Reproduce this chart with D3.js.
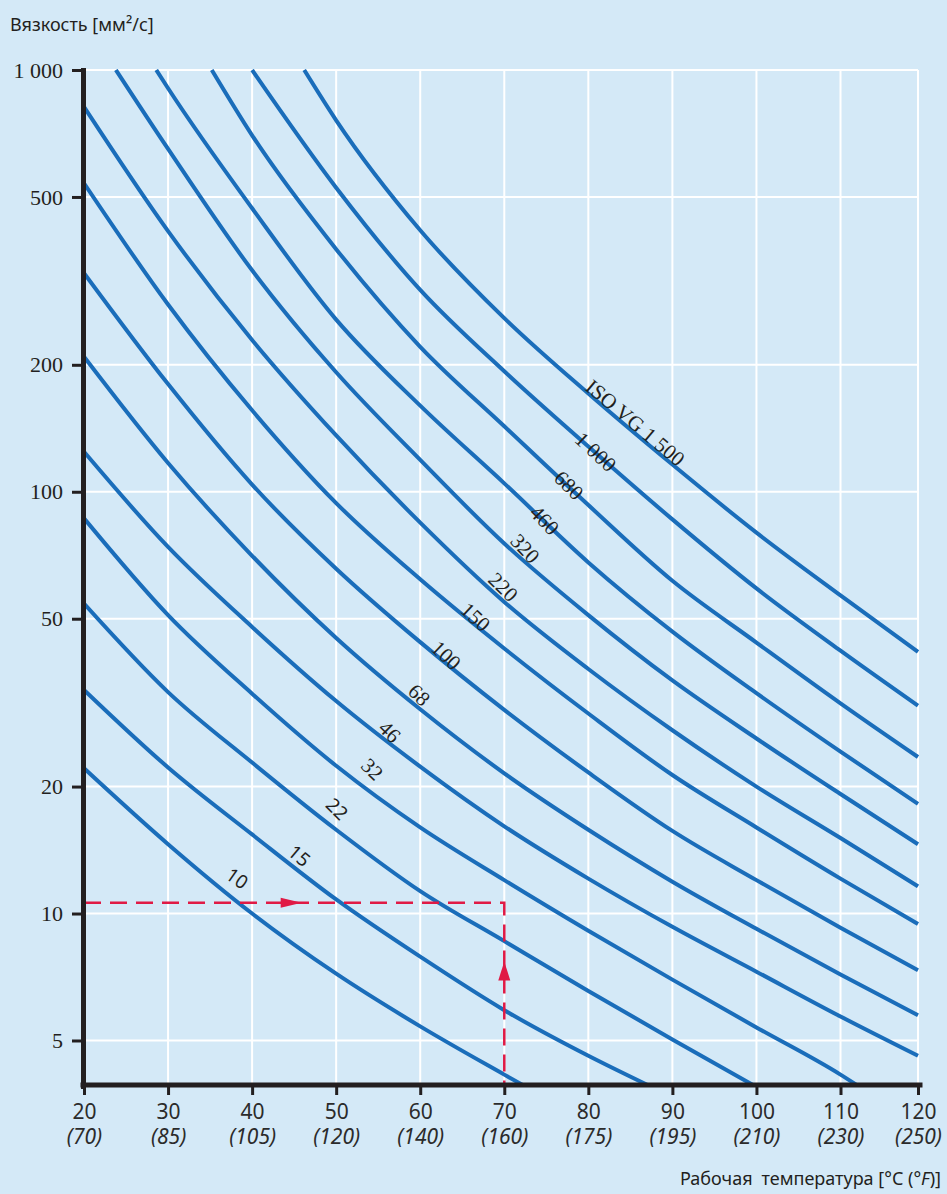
<!DOCTYPE html>
<html lang="ru">
<head>
<meta charset="utf-8">
<script src="https://d3js.org/d3.v7.min.js"></script>
<style>
  body { margin: 0; background: #d4e9f7; }
  svg { display: block; }
  .axis path { stroke: #231f20; stroke-width: 5px; stroke-linecap: square; }
  .axis line { stroke: #231f20; stroke-width: 3px; }
  .axis--y text { font-family: "Liberation Serif", serif; font-size: 22px; fill: #231f20; }
  .tick-c, .tick-f { font-family: "Noto Sans", sans-serif; font-size: 21px; fill: #2b2b2b; }
  .tick-f { font-style: italic; }
  .grid line { stroke: #ffffff; stroke-width: 2px; }
  .curve { fill: none; stroke: #1a6dba; stroke-width: 4px; }
  .vg-label { font-family: "Liberation Serif", serif; font-size: 21px; fill: #231f20; }
  .vg-label.sans { font-family: "Noto Sans", sans-serif; font-size: 19px; }
  .title { font-family: "Noto Sans", sans-serif; font-size: 18px; fill: #231f20; }
  .guide { fill: none; stroke: #e01a45; stroke-width: 2.5px; stroke-dasharray: 17 9; }
  .arrow { fill: #e01a45; }
</style>
</head>
<body>
<div id="chart"></div>
<script>
var width = 947, height = 1194;

// axis ticks
var yTicks = [5, 10, 20, 50, 100, 200, 500, 1000];
var tempC = [20, 30, 40, 50, 60, 70, 80, 90, 100, 110, 120];
var tempF = [70, 85, 105, 120, 140, 160, 175, 195, 210, 230, 250];

// ISO VG grades and their curves: [temperature °C, viscosity mm²/s]
var grades = ["10", "15", "22", "32", "46", "68", "100", "150", "220", "320", "460", "680", "1 000", "ISO VG 1 500"];
var vg10 = [[20, 22.1], [30, 14.6], [40, 10], [50, 7.2], [60, 5.4], [70, 4.15], [72.4, 3.9]];
var vg15 = [[20, 33.9], [30, 22.2], [40, 15.4], [50, 10.8], [60, 7.9], [70, 5.9], [80, 4.6], [87.3, 3.9]];
var vg22 = [[20, 54.3], [30, 33.5], [40, 22.8], [50, 15.8], [60, 11.3], [70, 8.6], [80, 6.55], [90, 5.03], [99.8, 3.9]];
var vg32 = [[20, 86.5], [30, 51], [40, 33.2], [50, 22.4], [60, 16], [70, 12], [80, 9.1], [90, 6.97], [100, 5.37], [110, 4.15], [112.3, 3.9]];
var vg46 = [[20, 124.4], [30, 74], [40, 47.8], [50, 31.9], [60, 22.3], [70, 16.1], [80, 12.1], [90, 9.3], [100, 7.28], [110, 5.7], [120, 4.6]];
var vg68 = [[20, 209], [30, 117], [40, 70.5], [50, 45], [60, 30.5], [70, 21.5], [80, 15.8], [90, 11.9], [100, 9.2], [110, 7.17], [120, 5.74]];
var vg100 = [[20, 330], [30, 180], [40, 104], [50, 65.7], [60, 44], [70, 30.4], [80, 21.6], [90, 15.7], [100, 12], [110, 9.25], [120, 7.34]];
var vg150 = [[20, 539], [30, 278], [40, 156], [50, 94], [60, 62], [70, 42.5], [80, 29.8], [90, 21.3], [100, 16], [110, 12.1], [120, 9.44]];
var vg220 = [[20, 818], [30, 415], [40, 229], [50, 136], [60, 84.5], [70, 54.8], [80, 38], [90, 27.2], [100, 20], [110, 15.1], [120, 11.6]];
var vg320 = [[23.8, 1000], [30, 650], [40, 335], [50, 192], [60, 119], [70, 75.4], [80, 51], [90, 35.7], [100, 26], [110, 19.2], [120, 14.6]];
var vg460 = [[28.6, 1000], [30, 905], [40, 470], [50, 256], [60, 160], [70, 104.7], [80, 68], [90, 46.6], [100, 33.3], [110, 24.2], [120, 18.2]];
var vg680 = [[35.2, 1000], [40, 700], [50, 376], [60, 220.7], [70, 143], [80, 93], [90, 61.5], [100, 43.9], [110, 31.5], [120, 23.5]];
var vg1000 = [[40, 1000], [50, 526], [60, 301], [70, 193], [80, 128], [90, 86], [100, 59], [110, 42], [120, 31.1]];
var vg1500 = [[46.2, 1000], [50, 760], [60, 417], [70, 258], [80, 171], [90, 116], [100, 80], [110, 56.8], [120, 41.7]];
var curves = [vg10, vg15, vg22, vg32, vg46, vg68, vg100, vg150, vg220, vg320, vg460, vg680, vg1000, vg1500];

// where each grade label sits (°C, mm²/s) and its tilt
var labelT = [38.2, 45.6, 50.1, 54.3, 56.4, 59.9, 63.1, 66.6, 69.9, 72.5, 74.8, 77.7, 80.9, 85.6];
var labelV = [12.1, 13.7, 17.7, 22.0, 27.0, 33.0, 41.0, 50.5, 59.5, 73.4, 85.7, 103.7, 124.4, 145.9];
var labelAngle = [35, 40, 45, 44, 45, 45, 44, 43, 45, 47, 46, 45, 43, 40];

// worked example: 70 °C needs ~10.6 mm²/s
var exampleT = 70, exampleV = 10.6;
var arrowRightT = 45.9, arrowUpV = 7.7;

var x = d3.scaleLinear().domain([20, 110, 120]).range([84, 840.5, 918]);
var y = d3.scaleLog().domain([3.9, 1000]).range([1086, 70]);

var svg = d3.select("#chart").append("svg")
    .attr("width", width)
    .attr("height", height);

svg.append("rect").attr("width", width).attr("height", height).attr("fill", "#d4e9f7");

svg.append("defs").append("clipPath").attr("id", "plot-clip")
    .append("rect")
    .attr("x", x(20)).attr("y", y(1000) - 1)
    .attr("width", x(120) - x(20) + 2).attr("height", y(3.9) - y(1000) + 1);

// grid
var grid = svg.append("g").attr("class", "grid");
grid.selectAll("line.v")
    .data(tempC.slice(1))
    .enter().append("line")
    .attr("x1", function(d) { return x(d); })
    .attr("x2", function(d) { return x(d); })
    .attr("y1", y(1000))
    .attr("y2", y(3.9));
grid.selectAll("line.h")
    .data(yTicks)
    .enter().append("line")
    .attr("x1", x(20))
    .attr("x2", x(120))
    .attr("y1", function(d) { return y(d); })
    .attr("y2", function(d) { return y(d); });

// curves
var line = d3.line()
    .x(function(d) { return x(d[0]); })
    .y(function(d) { return y(d[1]); })
    .curve(d3.curveMonotoneX);

svg.append("g")
    .attr("clip-path", "url(#plot-clip)")
    .selectAll("path")
    .data(curves)
    .enter().append("path")
    .attr("class", "curve")
    .attr("d", line);

// grade labels
svg.append("g")
    .selectAll("text")
    .data(grades)
    .enter().append("text")
    .attr("class", function(d, i) { return i < 3 ? "vg-label sans" : "vg-label"; })
    .attr("text-anchor", "middle")
    .attr("dy", "0.35em")
    .attr("transform", function(d, i) {
        return "translate(" + x(labelT[i]) + "," + y(labelV[i]) + ") rotate(" + labelAngle[i] + ")";
    })
    .text(function(d) { return d; });

// worked example (dashed guide + arrows)
svg.append("path")
    .attr("class", "guide")
    .attr("d", "M" + x(20) + "," + y(exampleV) + "H" + x(exampleT) + "V" + y(3.9));

svg.append("path")
    .attr("class", "arrow")
    .attr("transform", "translate(" + x(arrowRightT) + "," + y(exampleV) + ")")
    .attr("d", "M0,0L-21,-5L-21,5Z");

svg.append("path")
    .attr("class", "arrow")
    .attr("transform", "translate(" + x(exampleT) + "," + y(arrowUpV) + ")")
    .attr("d", "M0,0L-6,19L6,19Z");

// axes
svg.append("g")
    .attr("class", "axis axis--y")
    .attr("transform", "translate(" + (x(20) - 1) + ",0)")
    .call(d3.axisLeft(y)
        .tickValues(yTicks)
        .tickSize(11)
        .tickSizeOuter(0)
        .tickPadding(9)
        .tickFormat(function(d) { return d === 1000 ? "1 000" : d; }));

var xAxis = svg.append("g")
    .attr("class", "axis axis--x")
    .attr("transform", "translate(0," + (y(3.9) - 1) + ")")
    .call(d3.axisBottom(x)
        .tickValues(tempC)
        .tickSize(10)
        .tickSizeOuter(0)
        .tickFormat(""));

xAxis.select(".domain").attr("d", "M" + (x(20) - 1) + ",0H" + (x(120) + 2));

xAxis.selectAll(".tick").each(function(d, i) {
    var tick = d3.select(this);
    tick.select("text").remove();
    tick.append("text").attr("class", "tick-c")
        .attr("text-anchor", "middle").attr("y", 34).text(d);
    tick.append("text").attr("class", "tick-f")
        .attr("text-anchor", "middle").attr("y", 59).text("(" + tempF[i] + ")");
});

// titles
svg.append("text")
    .attr("class", "title")
    .attr("x", 10)
    .attr("y", 31)
    .text("Вязкость [мм²/с]");

var xTitle = svg.append("text")
    .attr("class", "title")
    .attr("x", 941)
    .attr("y", 1185)
    .attr("text-anchor", "end");
xTitle.append("tspan").text("Рабочая");
xTitle.append("tspan").attr("dx", 9).text("температура [°C (");
xTitle.append("tspan").style("font-style", "italic").text("°F");
xTitle.append("tspan").text(")]");
</script>
</body>
</html>
